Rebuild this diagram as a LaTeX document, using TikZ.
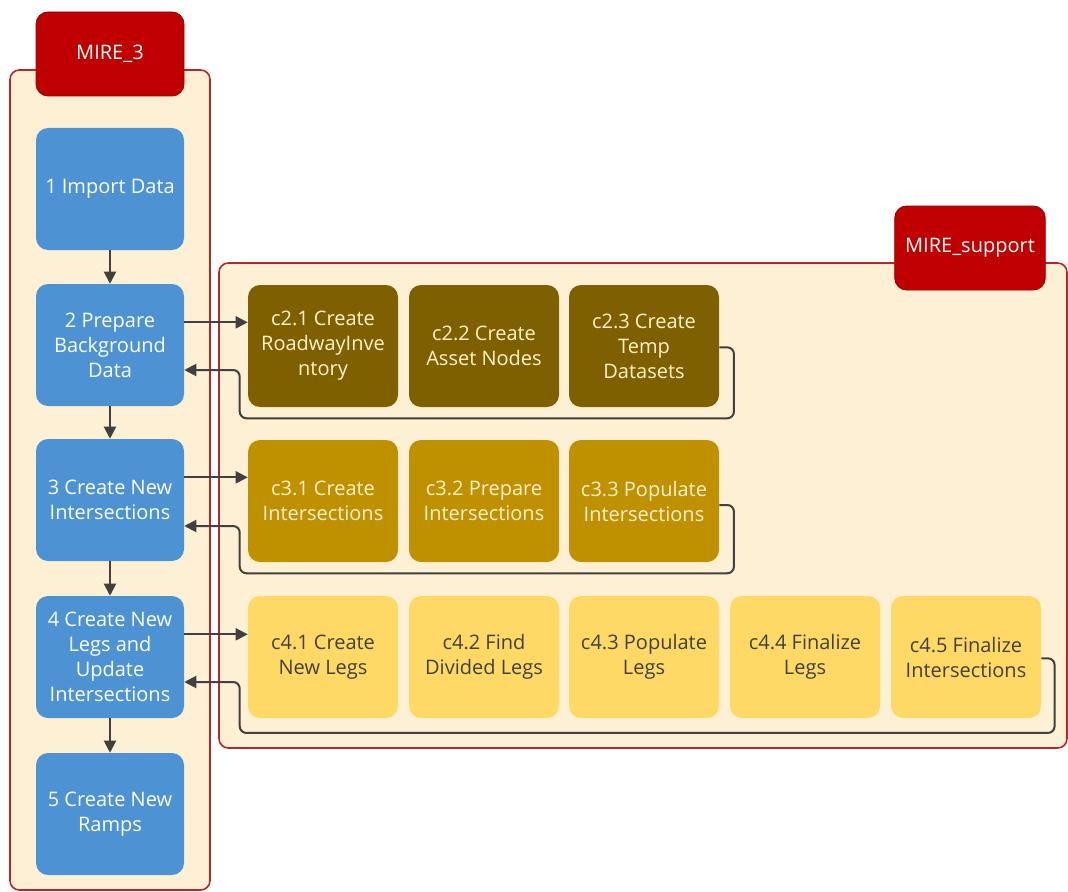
\documentclass[tikz,border=0pt]{standalone}
\usepackage{fontspec}
\setmainfont{Open Sans}
\usetikzlibrary{arrows.meta,calc}
\definecolor{paper}{HTML}{FDF0D4}
\definecolor{frame}{HTML}{B5282A}
\definecolor{tagred}{HTML}{C00000}
\definecolor{stepblue}{HTML}{4D92D3}
\definecolor{darkgold}{HTML}{7F6000}
\definecolor{midgold}{HTML}{BF9000}
\definecolor{lightgold}{HTML}{FFD966}
\definecolor{inkgrey}{HTML}{404040}
\definecolor{creamtext}{HTML}{FFF2CC}
\begin{document}
\begin{tikzpicture}[x=0.75pt,y=-0.75pt,
  container/.style={draw=frame, line width=1.2pt, fill=paper, rounded corners=7pt, inner sep=0pt},
  tag/.style={fill=tagred, draw=tagred!80!black, line width=0.6pt, rounded corners=9pt, text=white,
    minimum width=111pt, minimum height=63pt, inner sep=0pt, font=\fontsize{15}{18}\selectfont},
  stepbox/.style={fill=stepblue, rounded corners=9pt, text=white, align=center,
    minimum width=111pt, minimum height=91.5pt, inner sep=0pt, font=\fontsize{15}{18.75}\selectfont},
  subbox/.style={rounded corners=9pt, align=center, minimum width=112.5pt, minimum height=91.5pt,
    inner sep=0pt, font=\fontsize{15}{18.75}\selectfont},
  rowa/.style={subbox, fill=darkgold, text=creamtext},
  rowb/.style={subbox, fill=midgold, text=creamtext},
  rowc/.style={subbox, fill=lightgold, text=inkgrey},
  arr/.style={draw=inkgrey, line width=1.5pt, -{Triangle[length=9pt,width=9pt]}},
  back/.style={arr, rounded corners=5pt}
]
\useasboundingbox (0,0) rectangle (1068,892);

% containers
\node[container, minimum width=150pt, minimum height=615pt] (mire3) at (110,480) {};
\node[container, minimum width=636pt, minimum height=363.75pt] (support) at (643,505.5) {};

% container labels
\node[tag] (tag3) at (110,54) {MIRE\_3};
\node[tag, minimum width=113pt] (tagsup) at (970,248) {MIRE\_support};

% main steps
\node[stepbox] (s1) at (110,189) {1 Import Data};
\node[stepbox] (s2) at (110,345) {2 Prepare\\Background\\Data};
\node[stepbox] (s3) at (110,500) {3 Create New\\Intersections};
\node[stepbox] (s4) at (110,657) {4 Create New\\Legs and\\Update\\Intersections};
\node[stepbox] (s5) at (110,814) {5 Create New\\Ramps};

% sub-steps of step 2
\node[rowa] (c21) at (323,346) {c2.1 Create\\RoadwayInve\\ntory};
\node[rowa] (c22) at (484,346) {c2.2 Create\\Asset Nodes};
\node[rowa] (c23) at (644,346) {c2.3 Create\\Temp\\Datasets};

% sub-steps of step 3
\node[rowb] (c31) at (323,501) {c3.1 Create\\Intersections};
\node[rowb] (c32) at (484,501) {c3.2 Prepare\\Intersections};
\node[rowb] (c33) at (644,501) {c3.3 Populate\\Intersections};

% sub-steps of step 4
\node[rowc] (c41) at (323,657) {c4.1 Create\\New Legs};
\node[rowc] (c42) at (484,657) {c4.2 Find\\Divided Legs};
\node[rowc] (c43) at (644,657) {c4.3 Populate\\Legs};
\node[rowc] (c44) at (805,657) {c4.4 Finalize\\Legs};
\node[rowc] (c45) at (966,657) {c4.5 Finalize\\Intersections};

% sequence of main steps
\draw[arr] (s1.south) -- (s2.north);
\draw[arr] (s2.south) -- (s3.north);
\draw[arr] (s3.south) -- (s4.north);
\draw[arr] (s4.south) -- (s5.north);

% calls into the support steps
\draw[arr] ([yshift=17pt]s2.east) -- ([yshift=17pt]s2.east -| c21.west);
\draw[arr] ([yshift=17pt]s3.east) -- ([yshift=17pt]s3.east -| c31.west);
\draw[arr] ([yshift=17pt]s4.east) -- ([yshift=17pt]s4.east -| c41.west);

% returns to the main steps
\draw[back] ([yshift=-1pt]c23.east) -- ++(11pt,0) |- ([xshift=-6pt,yshift=-8.25pt]c21.south west)
  |- ([yshift=-18.75pt]s2.east);
\draw[back] ([yshift=-3pt]c33.east) -- ++(11pt,0) |- ([xshift=-6pt,yshift=-8.25pt]c31.south west)
  |- ([yshift=-19.5pt]s3.east);
\draw[back] ([yshift=-1pt]c45.east) -- ++(10pt,0) |- ([xshift=-6pt,yshift=-11pt]c41.south west)
  |- ([yshift=-18.75pt]s4.east);
\end{tikzpicture}
\end{document}
